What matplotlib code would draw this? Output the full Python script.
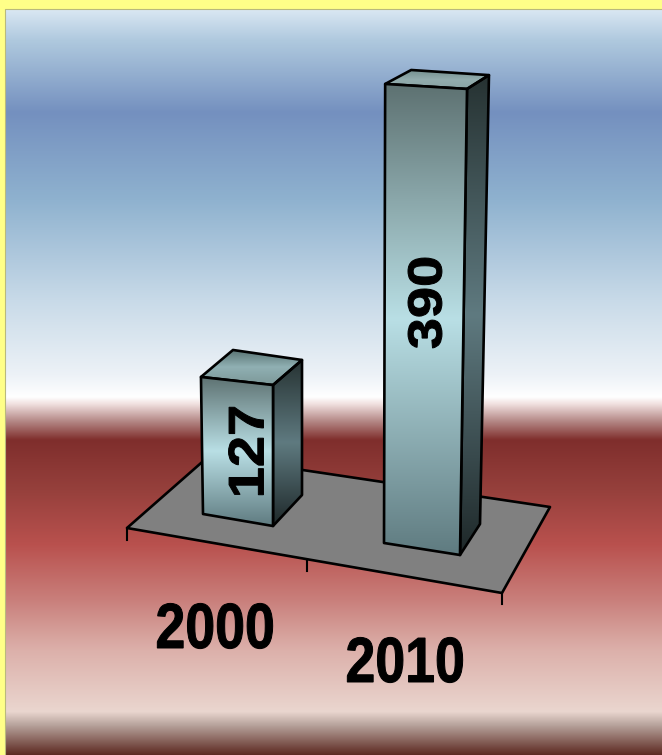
import numpy as np
import matplotlib
matplotlib.use("Agg")
import matplotlib.pyplot as plt
from matplotlib.colors import LinearSegmentedColormap, to_rgb
from matplotlib.patches import PathPatch, Polygon
from matplotlib.text import Text
from matplotlib.textpath import TextPath
from matplotlib.transforms import Affine2D, Bbox

# Chart data
years = ["2000", "2010"]
values = [127, 390]

W, H = 662, 755

# Backdrop colour bands, from top to bottom (pixel row, colour)
band_rows = [9, 40, 112, 200, 300, 375, 397, 404, 420, 440, 490, 545, 600, 650, 712, 725, 755]
band_cols = ["#dae8f3", "#afc9de", "#7490bf", "#8fb2cf", "#c8dae8", "#edf2f7", "#ffffff",
             "#f0e0df", "#b88e8c", "#7f2e2c", "#96403c", "#b9514e", "#c97f7b", "#dcb0aa",
             "#ead6cf", "#b9a59e", "#5d2a22"]

# Floor outline and tick marks of the perspective base
floor_outline = [(127, 528), (502, 593), (550, 507), (209, 456)]
tick_marks = [((127, 528), (127, 540)), ((307, 560), (307, 571)), ((502, 593), (502, 604))]

# Base corners of each column (front-left, front-right, back-right, back-left)
# and how far each corner climbs per unit of value under the perspective.
base_corners = [
    [(203, 514), (273, 526), (302, 495), (234, 486)],
    [(384, 543), (460, 555), (480, 524), (403, 522)],
]
corner_rise = [
    [(-0.016, -1.079), (0.0, -1.11), (0.0, -1.063), (-0.008, -1.071)],
    [(0.003, -1.177), (0.018, -1.195), (0.023, -1.151), (0.021, -1.159)],
]

front_cols = ["#5d7171", "#b9dfe5", "#5f7b80"]
side_cols = ["#263232", "#5f7a80", "#1e2829"]
top_cols = ["#56706f", "#90b0b3", "#7c9898"]
top_cols_tall = ["#74908f", "#93adae", "#88a3a3"]

# Label placement: ink-centre, font size in points, horizontal stretch of the glyphs
year_pos = [(215, 626), (405, 660)]
year_size, year_stretch = 46, 0.84
value_pos = [(246, 451), (425, 303)]
value_size = [36, 34.5]
value_stretch = [1.12, 1.17]


class StretchedText(Text):
    """Text centred on its ink, with its glyphs widened or narrowed along the baseline."""

    def __init__(self, x, y, text, stretch=1.0, weight_px=1.0, **kwargs):
        super().__init__(x, y, text, **kwargs)
        self._stretch = stretch
        self._weight_px = weight_px

    def _display_path(self):
        dpi = self.figure.dpi
        path = TextPath((0, 0), self.get_text(), size=self.get_fontsize() * dpi / 72,
                        prop=self.get_fontproperties())
        box = path.get_extents()
        xy = self.get_transform().transform(self.get_unitless_position())
        move = (Affine2D()
                .translate(-(box.x0 + box.x1) / 2, -(box.y0 + box.y1) / 2)
                .scale(self._stretch, 1)
                .rotate_deg(self.get_rotation())
                .translate(*xy))
        return path.transformed(move)

    def get_window_extent(self, renderer=None, dpi=None):
        return Bbox(self._display_path().get_extents())

    def draw(self, renderer):
        if not self.get_visible() or not self.get_text():
            return
        glyphs = PathPatch(self._display_path(), facecolor=self.get_color(),
                           edgecolor=self.get_color(),
                           linewidth=self._weight_px * 72 / self.figure.dpi,
                           transform=Affine2D(), zorder=self.get_zorder())
        glyphs.set_figure(self.figure)
        glyphs.draw(renderer)


def gradient_face(ax, pts, colours, zorder):
    """Fill a polygon with a vertical colour gradient and outline it."""
    pts = np.asarray(pts, dtype=float)
    cmap = LinearSegmentedColormap.from_list("face", colours, N=256)
    grad = np.linspace(0, 1, 256).reshape(-1, 1)
    im = ax.imshow(grad, cmap=cmap, aspect="auto", interpolation="bilinear", origin="upper",
                   extent=(pts[:, 0].min(), pts[:, 0].max(), pts[:, 1].max(), pts[:, 1].min()),
                   zorder=zorder)
    clip = Polygon(pts, closed=True, transform=ax.transData)
    im.set_clip_path(clip)
    ax.add_patch(Polygon(pts, closed=True, fill=False, edgecolor="black", linewidth=1.9,
                         joinstyle="round", zorder=zorder + 0.5))


fig = plt.figure(figsize=(W / 100, H / 100), dpi=100, facecolor="#ffff88")
ax = fig.add_axes([0, 0, 1, 1])
ax.axis("off")

# Backdrop
rows = np.arange(9, H + 1)
rgb = np.array([to_rgb(c) for c in band_cols])
shade = np.stack([np.interp(rows, band_rows, rgb[:, i]) for i in range(3)], axis=1)
ax.imshow(shade[:, None, :], aspect="auto", extent=(5, W, H, 9), interpolation="bilinear", zorder=0)
ax.plot([5, 5, W], [H, 9, 9], color="#b9b97c", lw=0.8, zorder=1)

# Floor
ax.add_patch(Polygon(floor_outline, closed=True, facecolor="#808080", edgecolor="black",
                     linewidth=1.9, joinstyle="round", zorder=2))
for start, end in tick_marks:
    ax.plot([start[0], end[0]], [start[1], end[1]], color="black", lw=1.5, zorder=2)

ax.set_xlim(0, W)
ax.set_ylim(H, 0)

label_font = dict(family=["Liberation Sans"], fontweight="bold", color="black", zorder=6)

# Columns
for i, val in enumerate(values):
    base = np.array(base_corners[i], dtype=float)
    tops = base + val * np.array(corner_rise[i])
    fl, fr, br, bl = base
    tfl, tfr, tbr, tbl = tops
    gradient_face(ax, [tbl, tbr, tfr, tfl], top_cols_tall if val > 300 else top_cols, 3)
    gradient_face(ax, [tfr, tbr, br, fr], side_cols, 3)
    gradient_face(ax, [tfl, tfr, fr, fl], front_cols, 4)
    ax.add_artist(StretchedText(*value_pos[i], str(val), stretch=value_stretch[i], rotation=90,
                                fontsize=value_size[i], transform=ax.transData, **label_font))

# Category labels
for (x, y), year in zip(year_pos, years):
    ax.add_artist(StretchedText(x, y, year, stretch=year_stretch, fontsize=year_size,
                                transform=ax.transData, **label_font))

ax.set_xlim(0, W)
ax.set_ylim(H, 0)
fig.savefig("out.png", dpi=100, facecolor=fig.get_facecolor())
